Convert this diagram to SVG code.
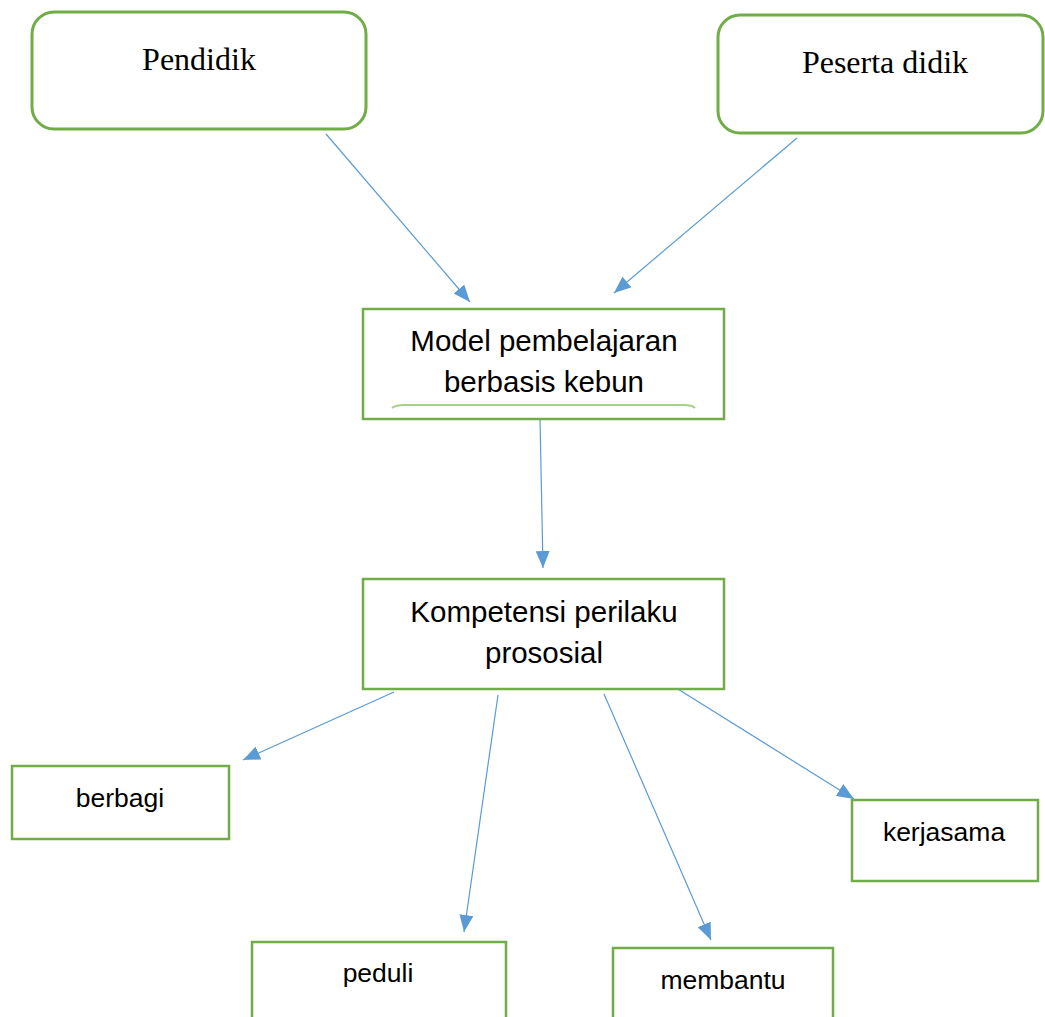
<svg xmlns="http://www.w3.org/2000/svg" width="1045" height="1017" viewBox="0 0 1045 1017">
<style>
.rnode{fill:#fff;stroke:#70AD47;stroke-width:3}
.node{fill:#fff;stroke:#70AD47;stroke-width:2.5}
.serif{font-family:"Liberation Serif","Times New Roman",serif;font-size:32px;fill:#000;text-anchor:middle}
.big{font-family:"Liberation Sans",Arial,sans-serif;font-size:29.5px;fill:#000;text-anchor:middle}
.small{font-family:"Liberation Sans",Arial,sans-serif;font-size:26.5px;fill:#000;text-anchor:middle}
.edge{stroke:#5B9BD5;stroke-width:1.2;fill:none;marker-end:url(#ah)}
</style>
<defs>
<marker id="ah" markerUnits="userSpaceOnUse" markerWidth="18" markerHeight="14" refX="17" refY="7" orient="auto">
<path d="M0,0 L17,7 L0,14 Z" fill="#5B9BD5"/>
</marker>
</defs>
<rect width="1045" height="1017" fill="#fff"/>
<g id="connectors">
<line class="edge" x1="326" y1="134" x2="470" y2="302"/>
<line class="edge" x1="797" y1="138" x2="614" y2="293"/>
<line class="edge" x1="540" y1="418" x2="543" y2="568"/>
<line class="edge" x1="394" y1="692" x2="243" y2="760"/>
<line class="edge" x1="498" y1="695" x2="464" y2="932"/>
<line class="edge" x1="604" y1="694" x2="711" y2="940"/>
<line class="edge" x1="673" y1="686" x2="854" y2="799"/>
</g>
<g id="pendidik">
<rect class="rnode" x="32" y="12" width="334" height="117" rx="22"/>
<text class="serif" x="199" y="70">Pendidik</text>
</g>
<g id="peserta-didik">
<rect class="rnode" x="718" y="15" width="325" height="118" rx="22"/>
<text class="serif" x="885" y="73">Peserta didik</text>
</g>
<g id="model">
<rect class="node" x="363" y="309" width="361" height="110"/>
<path d="M392,408 Q396,405 404,405 L684,405 Q692,405 695,408" fill="none" stroke="#A9D18E" stroke-width="2"/>
<text class="big" x="544" y="351">Model pembelajaran</text>
<text class="big" x="544" y="392">berbasis kebun</text>
</g>
<g id="kompetensi">
<rect class="node" x="363" y="579" width="361" height="110"/>
<text class="big" x="544" y="622">Kompetensi perilaku</text>
<text class="big" x="544" y="663">prososial</text>
</g>
<g id="berbagi">
<rect class="node" x="12" y="766" width="217" height="73"/>
<text class="small" x="120" y="807">berbagi</text>
</g>
<g id="kerjasama">
<rect class="node" x="852" y="800" width="186" height="81"/>
<text class="small" x="944" y="841">kerjasama</text>
</g>
<g id="peduli">
<rect class="node" x="252" y="942" width="254" height="100"/>
<text class="small" x="378" y="982">peduli</text>
</g>
<g id="membantu">
<rect class="node" x="613" y="948" width="220" height="100"/>
<text class="small" x="723" y="989">membantu</text>
</g>
</svg>
